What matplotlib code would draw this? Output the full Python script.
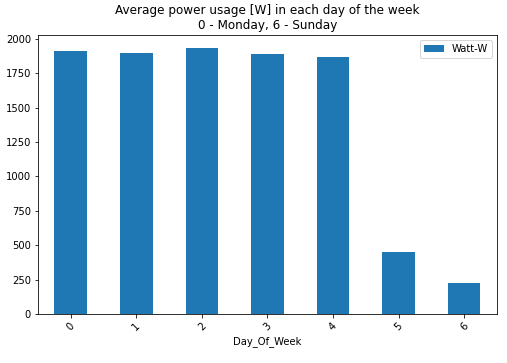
import matplotlib
matplotlib.use("Agg")
import matplotlib.pyplot as plt

days = ["0", "1", "2", "3", "4", "5", "6"]
watt = [1910, 1895, 1932, 1890, 1868, 452, 226]

fig = plt.figure(figsize=(507/72, 363/72), dpi=72)
ax = fig.add_axes([0.075, 0.135, 0.905, 0.769])
x = range(len(days))
ax.bar(x, watt, width=0.5, color="#1f77b4", label="Watt-W")
ax.set_xlim(-0.5, len(days) - 0.5)
ax.set_ylim(0, max(watt) * 1.05)
ax.set_xticks(list(x))
ax.set_xticklabels(days, rotation=45)
ax.set_xlabel("Day_Of_Week")
ax.set_title("Average power usage [W] in each day of the week\n0 - Monday, 6 - Sunday")
ax.legend(loc="upper right")
fig.savefig("out.png", dpi=72)
